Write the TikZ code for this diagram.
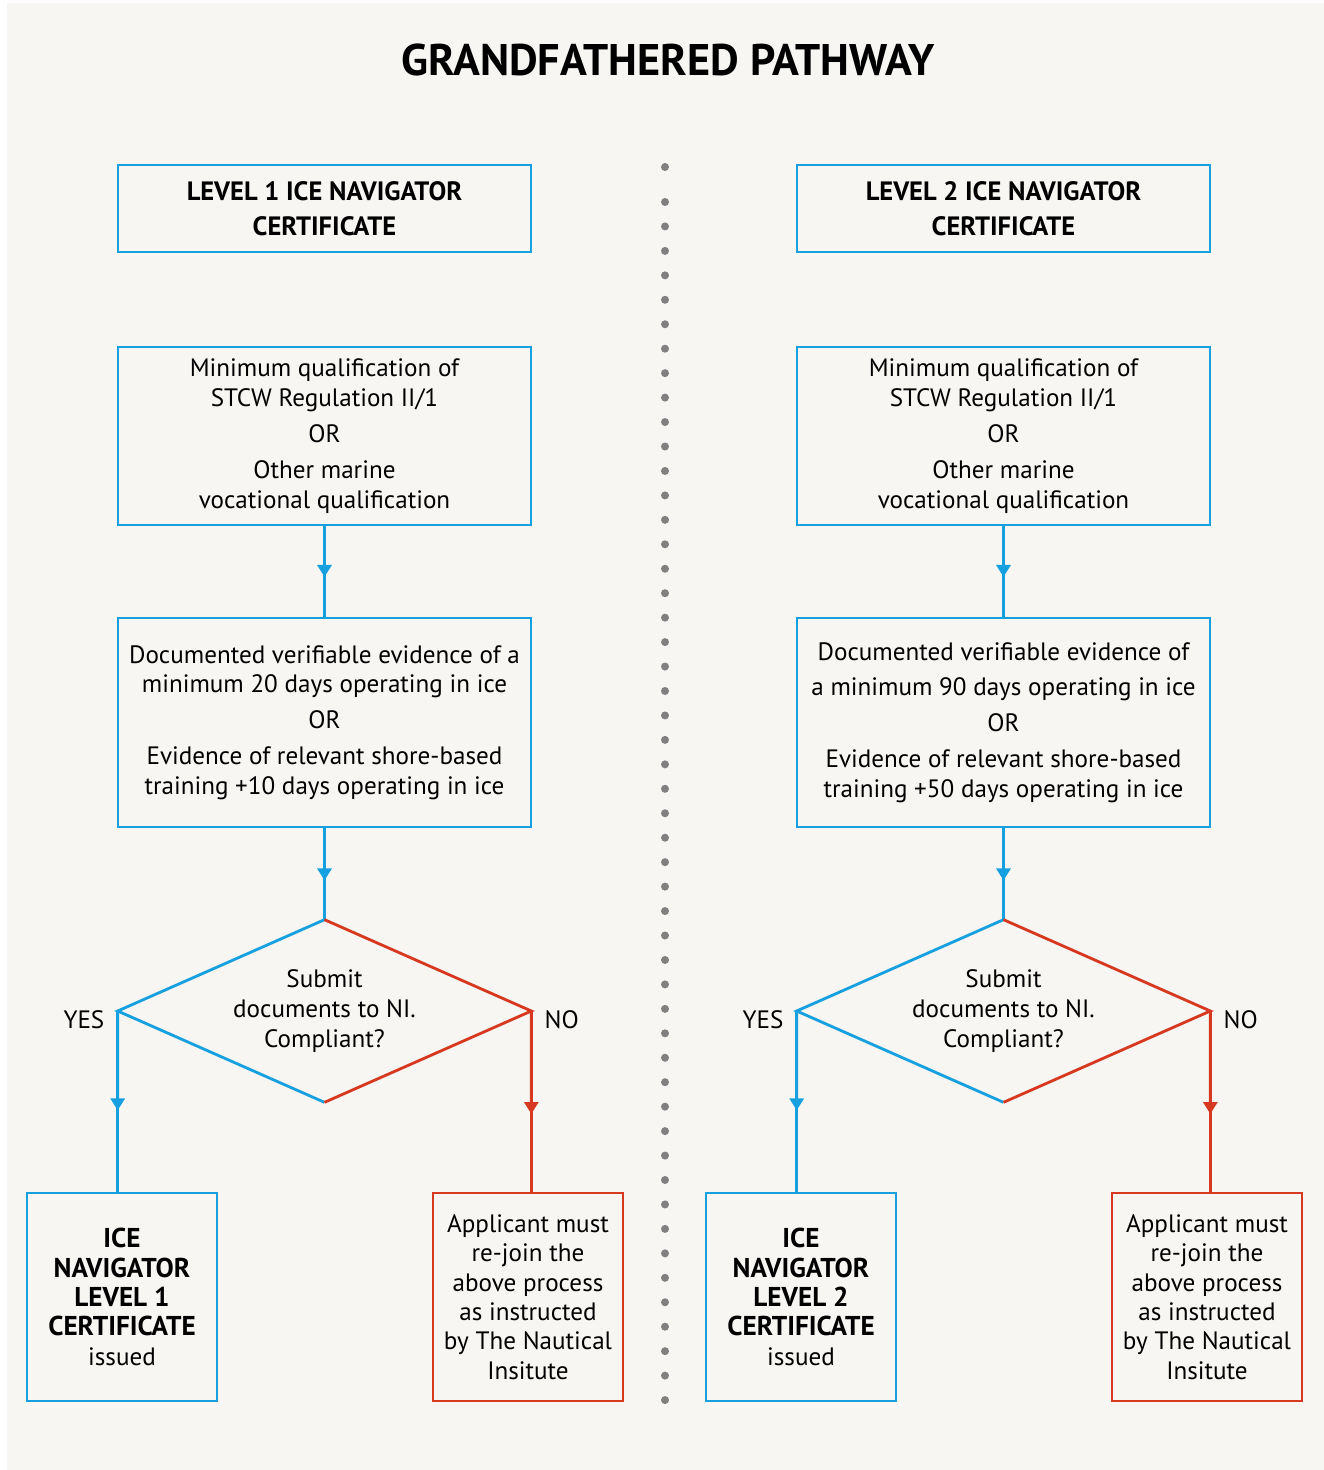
\documentclass[tikz,border=0pt]{standalone}
\usepackage{fontspec}
\setmainfont{PT Sans}
\usetikzlibrary{arrows.meta,calc,positioning,shapes.geometric}
\definecolor{niblue}{RGB}{22,160,224}
\definecolor{nired}{RGB}{214,56,32}
\definecolor{paper}{RGB}{247,246,243}
\definecolor{dotgrey}{RGB}{128,128,128}
\begin{document}
\begin{tikzpicture}[x=0.02cm,y=-0.02cm,
	box/.style={draw=niblue,line width=1.6pt,inner sep=0pt,align=center,
		font=\fontsize{14.3pt}{17pt}\selectfont},
	redbox/.style={box,draw=nired},
	head/.style={font=\fontsize{15.1pt}{19.8pt}\selectfont\bfseries},
	cert/.style={font=\fontsize{15.5pt}{16.7pt}\selectfont\bfseries},
	flow/.style={niblue,line width=1.6pt},
	noflow/.style={nired,line width=1.6pt},
	tip/.style={-{Triangle[length=6.8pt,width=8pt]}},
	lbl/.style={font=\fontsize{14.3pt}{17pt}\selectfont,inner sep=0pt}]
\useasboundingbox (0,0) rectangle (1324,1470);
\fill[paper] (7,3) rectangle (1324,1470);
\node[font=\fontsize{25.2pt}{30pt}\selectfont\bfseries] (T) at (668,60) {GRANDFATHERED PATHWAY};

% dotted divider
\fill[dotgrey] (665,167) circle (4);
\foreach \i in {0,...,49}
	\fill[dotgrey] (665,202+24.45*\i) circle (4);

% level 1
\node[box,head,minimum width=8.26cm,minimum height=1.74cm] (h1) at (324.5,208.5) {LEVEL 1 ICE NAVIGATOR\\CERTIFICATE};
\node[box,minimum width=8.26cm,minimum height=3.56cm] (q1) at (324.5,436)
	{Minimum qualification of\\STCW Regulation II/1\\[3.4pt]OR\\[3.4pt]Other marine\\vocational qualification};
\node[box,minimum width=8.26cm,minimum height=4.18cm] (e1) at (324.5,722.5)
	{Documented verifiable evidence of a\\minimum 20 days operating in ice\\[3.4pt]OR\\[3.4pt]Evidence of relevant shore-based\\training +10 days operating in ice};
\node[diamond,aspect=2.27,inner sep=0pt,minimum width=8.26cm,minimum height=3.64cm,align=center,
	font=\fontsize{14.3pt}{17pt}\selectfont] (d1) at (324.5,1011) {Submit\\documents to NI.\\Compliant?};
\node[box,cert,minimum width=3.8cm,minimum height=4.16cm] (c1) at (122,1297)
	{ICE\\NAVIGATOR\\LEVEL 1\\CERTIFICATE\\{\fontsize{14.3pt}{16.7pt}\selectfont\mdseries issued}};
\node[redbox,minimum width=3.8cm,minimum height=4.16cm,font=\fontsize{14.3pt}{16.7pt}\selectfont] (r1) at (528,1297)
	{Applicant must\\re-join the\\above process\\as instructed\\by The Nautical\\Insitute};
\node[lbl,anchor=east] (yes1) at ($(d1.west)+(-13,9)$) {YES};
\node[lbl,anchor=west] (no1) at ($(d1.east)+(13,9)$) {NO};

\draw[flow] (q1.south) -- (e1.north);
\draw[flow,tip] (q1.south) -- ($(q1.south)!0.56!(e1.north)$);
\draw[flow] (e1.south) -- (d1.north);
\draw[flow,tip] (e1.south) -- ($(e1.south)!0.57!(d1.north)$);
\draw[flow] (d1.north) -- (d1.west) -- (d1.south);
\draw[noflow] (d1.north) -- (d1.east) -- (d1.south);
\draw[flow] (d1.west) -- (d1.west |- c1.north);
\draw[flow,tip] (d1.west) -- ($(d1.west)!0.55!(d1.west |- c1.north)$);
\draw[noflow] (d1.east) -- (d1.east |- r1.north);
\draw[noflow,tip] (d1.east) -- ($(d1.east)!0.57!(d1.east |- r1.north)$);

% level 2
\node[box,head,minimum width=8.26cm,minimum height=1.74cm] (h2) at (1003.5,208.5) {LEVEL 2 ICE NAVIGATOR\\CERTIFICATE};
\node[box,minimum width=8.26cm,minimum height=3.56cm] (q2) at (1003.5,436)
	{Minimum qualification of\\STCW Regulation II/1\\[3.4pt]OR\\[3.4pt]Other marine\\vocational qualification};
\node[box,minimum width=8.26cm,minimum height=4.18cm] (e2) at (1003.5,722.5)
	{Documented verifiable evidence of\\[3.4pt]a minimum 90 days operating in ice\\[3.4pt]OR\\[3.4pt]Evidence of relevant shore-based\\training +50 days operating in ice};
\node[diamond,aspect=2.27,inner sep=0pt,minimum width=8.26cm,minimum height=3.64cm,align=center,
	font=\fontsize{14.3pt}{17pt}\selectfont] (d2) at (1003.5,1011) {Submit\\documents to NI.\\Compliant?};
\node[box,cert,minimum width=3.8cm,minimum height=4.16cm] (c2) at (801,1297)
	{ICE\\NAVIGATOR\\LEVEL 2\\CERTIFICATE\\{\fontsize{14.3pt}{16.7pt}\selectfont\mdseries issued}};
\node[redbox,minimum width=3.8cm,minimum height=4.16cm,font=\fontsize{14.3pt}{16.7pt}\selectfont] (r2) at (1207,1297)
	{Applicant must\\re-join the\\above process\\as instructed\\by The Nautical\\Insitute};
\node[lbl,anchor=east] (yes2) at ($(d2.west)+(-13,9)$) {YES};
\node[lbl,anchor=west] (no2) at ($(d2.east)+(13,9)$) {NO};

\draw[flow] (q2.south) -- (e2.north);
\draw[flow,tip] (q2.south) -- ($(q2.south)!0.56!(e2.north)$);
\draw[flow] (e2.south) -- (d2.north);
\draw[flow,tip] (e2.south) -- ($(e2.south)!0.57!(d2.north)$);
\draw[flow] (d2.north) -- (d2.west) -- (d2.south);
\draw[noflow] (d2.north) -- (d2.east) -- (d2.south);
\draw[flow] (d2.west) -- (d2.west |- c2.north);
\draw[flow,tip] (d2.west) -- ($(d2.west)!0.55!(d2.west |- c2.north)$);
\draw[noflow] (d2.east) -- (d2.east |- r2.north);
\draw[noflow,tip] (d2.east) -- ($(d2.east)!0.57!(d2.east |- r2.north)$);
\end{tikzpicture}
\end{document}
